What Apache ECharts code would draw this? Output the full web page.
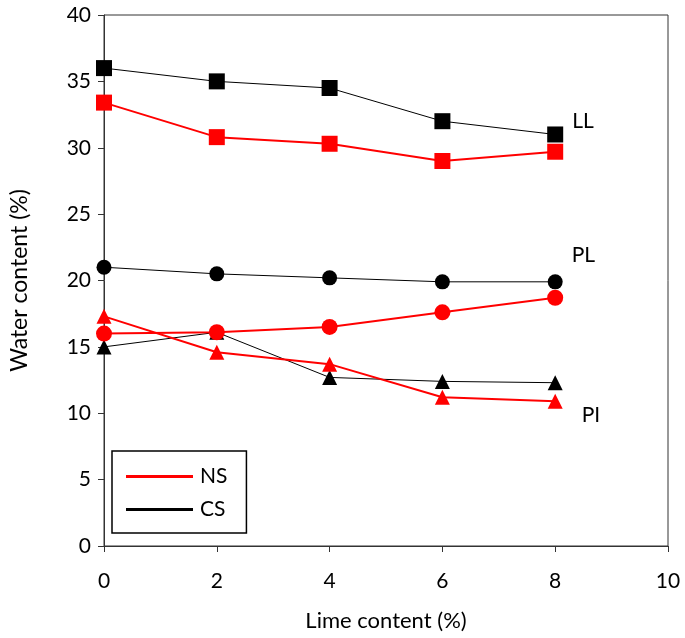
<!DOCTYPE html>
<html>
<head>
<meta charset="utf-8">
<script src="https://cdn.jsdelivr.net/npm/echarts@6/dist/echarts.min.js"></script>
<style>html,body{margin:0;padding:0;background:#fff;}#c{width:685px;height:638px;}</style>
</head>
<body>
<div id="c"></div>
<script>
var limeContent = [0, 2, 4, 6, 8];
var nsLL = [33.4, 30.8, 30.3, 29.0, 29.7];
var nsPL = [16.0, 16.1, 16.5, 17.6, 18.7];
var nsPI = [17.3, 14.6, 13.7, 11.2, 10.9];
var csLL = [36.0, 35.0, 34.5, 32.0, 31.0];
var csPL = [21.0, 20.5, 20.2, 19.9, 19.9];
var csPI = [15.0, 16.1, 12.7, 12.4, 12.3];
var legendNames = ['NS', 'CS'];
var curveLabels = ['LL', 'PL', 'PI'];

var FONT = 'Lato';
function pairs(vals, labelText, offset) {
  return vals.map(function (v, i) {
    var item = { value: [limeContent[i], v] };
    if (labelText && i === vals.length - 1) {
      item.label = { show: true, formatter: labelText, position: 'right', offset: offset,
        fontFamily: FONT, fontSize: 21, color: '#000' };
    }
    return item;
  });
}
function mk(name, vals, color, width, symbol, size, labelText, offset) {
  return {
    type: 'line', name: name, data: pairs(vals, labelText, offset),
    symbol: symbol, symbolSize: size, showSymbol: true,
    lineStyle: { color: color, width: width },
    itemStyle: { color: color },
    label: { show: false },
    emphasis: { disabled: true },
    animation: false, z: color === '#000' ? 2 : 3
  };
}

var chart = echarts.init(document.getElementById('c'));
chart.setOption({
  backgroundColor: '#fff',
  animation: false,
  grid: { left: 102, right: 17, top: 15, bottom: 92, show: true, borderColor: '#333', borderWidth: 1 },
  legend: {
    data: legendNames, orient: 'vertical', left: 112, top: 451,
    icon: 'rect', itemWidth: 67, itemHeight: 3, itemGap: 12,
    padding: [15, 19, 13, 14],
    borderColor: '#000', borderWidth: 1.5, backgroundColor: '#fff',
    textStyle: { fontFamily: FONT, fontSize: 21, color: '#000', padding: [0, 0, 0, 2] },
    selectedMode: false
  },
  xAxis: {
    type: 'value', min: 0, max: 10, interval: 2,
    name: 'Lime content (%)', nameLocation: 'middle', nameGap: 64,
    nameTextStyle: { fontFamily: FONT, fontSize: 22, color: '#000' },
    axisLine: { show: true, onZero: false, lineStyle: { color: '#333', width: 1 } },
    axisTick: { show: true, inside: false, length: 6, lineStyle: { color: '#333' } },
    axisLabel: { fontFamily: FONT, fontSize: 21, color: '#000', margin: 25 },
    splitLine: { show: false }
  },
  yAxis: {
    type: 'value', min: 0, max: 40, interval: 5,
    name: 'Water content (%)', nameLocation: 'middle', nameGap: 73, nameRotate: 90,
    nameTextStyle: { fontFamily: FONT, fontSize: 23, color: '#000' },
    axisLine: { show: true, onZero: false, lineStyle: { color: '#333', width: 1 } },
    axisTick: { show: true, inside: false, length: 6, lineStyle: { color: '#333' } },
    axisLabel: { fontFamily: FONT, fontSize: 21, color: '#000', margin: 13 },
    splitLine: { show: false }
  },
  series: [
    mk('CS LL', csLL, '#000', 1, 'rect', 16, 'LL', [4, -13]),
    mk('CS PL', csPL, '#000', 1, 'circle', 15, 'PL', [4, -27]),
    mk('CS PI', csPI, '#000', 1, 'triangle', 15, null, null),
    mk('NS LL', nsLL, '#ff0000', 2, 'rect', 16, null, null),
    mk('NS PL', nsPL, '#ff0000', 2, 'circle', 16, null, null),
    mk('NS PI', nsPI, '#ff0000', 2, 'triangle', 15, 'PI', [14, 14]),
    { type: 'line', name: 'NS', data: [], itemStyle: { color: '#ff0000' }, lineStyle: { color: '#ff0000' } },
    { type: 'line', name: 'CS', data: [], itemStyle: { color: '#000' }, lineStyle: { color: '#000' } }
  ]
});
</script>
</body>
</html>
